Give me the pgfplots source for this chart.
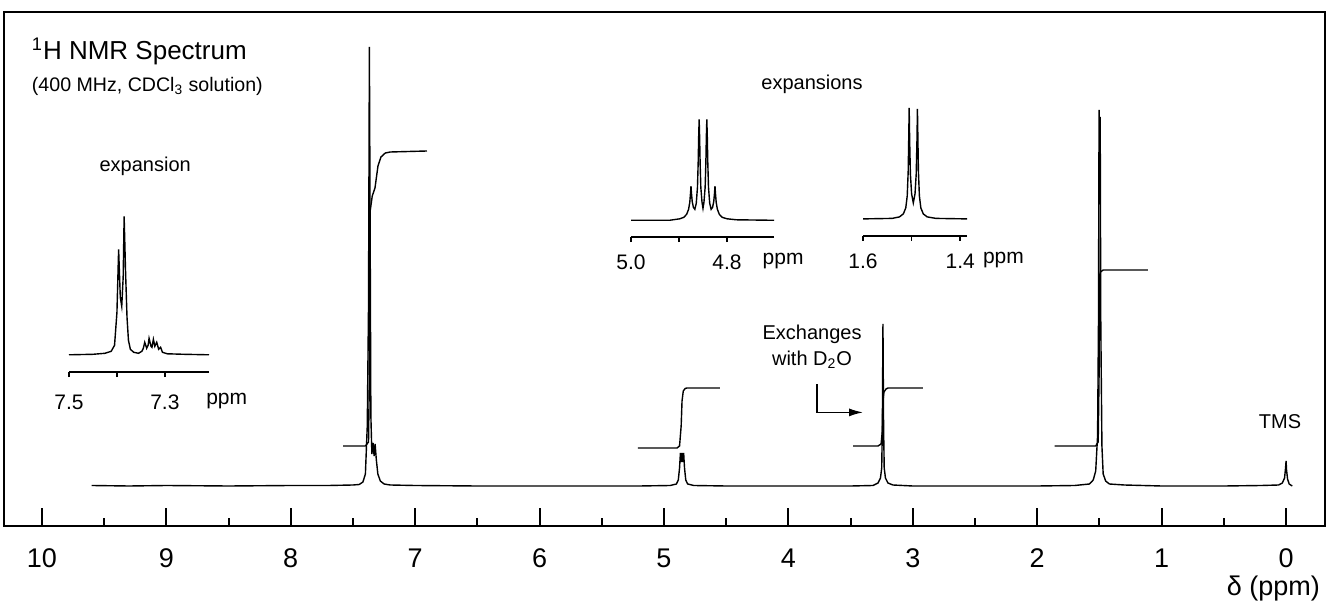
\documentclass[border=0pt]{standalone}
\usepackage{pgfplots}
\pgfplotsset{compat=1.18}
\usepackage{fontspec}
\setmainfont{Liberation Sans}
\usetikzlibrary{calc,arrows.meta}

\pgfplotsset{
  spec/.style={black, line width=0.7pt, mark=none},
  inset/.style={scale only axis, anchor=south west, axis x line=bottom, axis y line=none,
    x axis line style={-, line width=0.8pt}, x dir=reverse, ymin=0, tick align=outside,
    major tick length=2.4pt, every tick/.style={black, line width=0.8pt},
    xticklabel style={anchor=base, font=\fontsize{10.5}{12}\selectfont},
    clip=false},
}

\begin{document}
\begin{tikzpicture}
\begin{axis}[name=main, scale only axis, width=660.5pt, height=257pt,
  xmin=-0.313, xmax=10.305, x dir=reverse, ymin=0, ymax=514,
  xtick={0,1,...,10}, minor xtick={0.5,1.5,...,9.5}, ytick=\empty,
  xtick pos=bottom, tick align=inside, major tick length=9pt, minor tick length=4pt,
  axis line style={line width=1pt}, every tick/.style={black, line width=1pt},
  xticklabel style={anchor=base, yshift=-20.5pt, font=\fontsize{13.5}{16}\selectfont},
  /pgf/number format/assume math mode=true, clip=false]
% spectrum
\addplot[spec] coordinates {
(9.60,40.5) (9.30,40) (9.00,40.5) (8.50,40) (8.00,40.5) (7.70,40.5) (7.50,41) (7.45,41.5)
(7.42,44) (7.40,52) (7.385,100) (7.375,220) (7.368,479) (7.362,300) (7.356,110) (7.348,72)
(7.338,83) (7.330,70) (7.322,82) (7.312,66) (7.300,52) (7.280,45) (7.250,42) (7.200,41)
(7.00,40.5) (6.50,40) (6.00,40) (5.50,40) (5.20,40) (4.95,40.5) (4.90,42) (4.885,46)
(4.875,58) (4.868,73) (4.861,64) (4.855,73) (4.849,64) (4.842,73) (4.835,58) (4.825,46)
(4.81,42) (4.76,40.5) (4.50,40) (4.00,40) (3.50,40) (3.32,40.5) (3.28,43) (3.26,48)
(3.25,58) (3.245,100) (3.240,202) (3.235,100) (3.230,58) (3.220,48) (3.200,43) (3.160,41)
(3.00,40) (2.50,40) (2.00,40) (1.70,40.5) (1.58,42) (1.55,46) (1.53,55) (1.515,90)
(1.508,200) (1.503,416) (1.499,330) (1.494,409) (1.489,200) (1.480,80) (1.470,52) (1.450,45)
(1.42,42) (1.30,41) (1.00,40) (0.50,40) (0.20,40.5) (0.06,41) (0.03,43) (0.012,48)
(0.004,58) (0.000,65) (-0.004,56) (-0.012,47) (-0.025,42) (-0.05,40)
};
% integrals
\addplot[spec] coordinates {
(7.58,80) (7.40,80) (7.375,84) (7.368,150) (7.365,312) (7.345,330) (7.323,338) (7.299,360)
(7.275,369) (7.24,373) (7.20,374) (6.905,375)
};
\addplot[spec] coordinates {
(5.21,78) (4.895,78) (4.875,80) (4.862,100) (4.855,125) (4.845,135) (4.83,137.5) (4.815,138) (4.55,138)
};
\addplot[spec] coordinates {
(3.48,80) (3.28,80) (3.255,82) (3.245,95) (3.24,125) (3.232,134) (3.215,137) (3.20,138) (2.92,138)
};
\addplot[spec] coordinates {
(1.86,80) (1.53,80) (1.51,84) (1.503,150) (1.499,250) (1.492,254) (1.47,256) (1.11,256)
};
% texts
\node[anchor=base west, font=\fontsize{13}{15}\selectfont] at (axis cs:10.137,466.3) {\textsuperscript{1}H NMR Spectrum};
\node[anchor=base west, font=\fontsize{9.8}{12}\selectfont] at (axis cs:10.137,434.3) {(400 MHz, CDCl\textsubscript{3} solution)};
\node[font=\fontsize{10}{12}\selectfont] at (axis cs:9.17,359.5) {expansion};
\node[font=\fontsize{10}{12}\selectfont] at (axis cs:3.81,441.6) {expansions};
\node[align=center, font=\fontsize{10}{13}\selectfont] at (axis cs:3.81,179.6) {Exchanges\\with D\textsubscript{2}O};
\node[font=\fontsize{10}{12}\selectfont] at (axis cs:0.048,104.5) {TMS};
\draw[line width=0.7pt, -{Latex[length=7pt,width=4pt]}] (axis cs:3.77,141.6) -- (axis cs:3.77,113.6) -- (axis cs:3.40,113.6);
\end{axis}

\node[anchor=base east, font=\fontsize{13.5}{16}\selectfont] at ($(main.south east)+(1pt,-35pt)$) {δ (ppm)};

% inset 1
\begin{axis}[inset, at={($(main.south west)+(32.5pt,76.85pt)$)}, width=70pt, height=80pt,
  xmin=7.208, xmax=7.5, ymax=160, xtick={7.3,7.4,7.5}, xticklabels={7.3,,7.5},
  xticklabel style={yshift=-16.25pt}]
\addplot[spec] coordinates {
(7.5,17.5) (7.45,18) (7.425,19) (7.412,21) (7.405,27) (7.400,60) (7.3965,123) (7.393,75)
(7.390,66) (7.387,95) (7.385,156) (7.382,100) (7.379,55) (7.376,32) (7.372,23) (7.365,20)
(7.355,19) (7.348,21) (7.345,24) (7.342,30) (7.338,24) (7.335,27) (7.333,34) (7.329,26)
(7.327,25) (7.324,33) (7.321,26) (7.317,30) (7.313,23) (7.309,25) (7.305,20) (7.295,18.5)
(7.26,18) (7.208,17.5)
};
\node[anchor=base, font=\fontsize{10.5}{12}\selectfont, yshift=-16.25pt] at (axis cs:7.171,0) {ppm};
\end{axis}

% inset 2
\begin{axis}[inset, at={($(main.south west)+(313.5pt,144.35pt)$)}, width=71.5pt, height=62.5pt,
  xmin=4.702, xmax=5.0, ymax=125, xtick={4.7,4.8,4.9,5.0}, xticklabels={,4.8,,5.0},
  xticklabel style={yshift=-13.75pt}]
\addplot[spec] coordinates {
(5.0,17) (4.92,17) (4.898,18.5) (4.890,20) (4.884,23) (4.880,28) (4.8775,35) (4.876,44)
(4.875,51) (4.874,44) (4.8725,36) (4.870,30) (4.867,28) (4.864,34) (4.8615,50) (4.860,75)
(4.859,100) (4.858,118) (4.857,100) (4.856,75) (4.8545,50) (4.852,35) (4.850,29) (4.848,35)
(4.8455,50) (4.844,75) (4.843,100) (4.842,118) (4.841,100) (4.840,75) (4.8385,50) (4.836,34)
(4.833,28) (4.830,30) (4.8275,36) (4.826,44) (4.825,51) (4.824,44) (4.8225,35) (4.820,28)
(4.816,23) (4.810,20) (4.800,18.5) (4.78,17.5) (4.702,17)
};
\node[anchor=base, font=\fontsize{10.5}{12}\selectfont, yshift=-13.75pt] at (axis cs:4.683,0) {ppm};
\end{axis}

% inset 3
\begin{axis}[inset, at={($(main.south west)+(429.5pt,145.05pt)$)}, width=52pt, height=65pt,
  xmin=1.386, xmax=1.6, ymax=130, xtick={1.4,1.5,1.6}, xticklabels={1.4,,1.6},
  xticklabel style={yshift=-13.75pt}]
\addplot[spec] coordinates {
(1.6,17) (1.54,17.5) (1.525,19) (1.517,22) (1.512,28) (1.509,40) (1.507,65) (1.506,95)
(1.505,128) (1.504,95) (1.5025,62) (1.500,42) (1.4965,33) (1.493,42) (1.4905,62) (1.489,95)
(1.488,127) (1.487,95) (1.486,65) (1.484,40) (1.481,28) (1.476,22) (1.468,19) (1.45,17.5)
(1.386,17)
};
\node[anchor=base, font=\fontsize{10.5}{12}\selectfont, yshift=-13.75pt] at (axis cs:1.311,0) {ppm};
\end{axis}

\path ($(main.south west)+(-2pt,-41.5pt)$) rectangle ($(main.south west)+(669pt,263pt)$);
\end{tikzpicture}
\end{document}
